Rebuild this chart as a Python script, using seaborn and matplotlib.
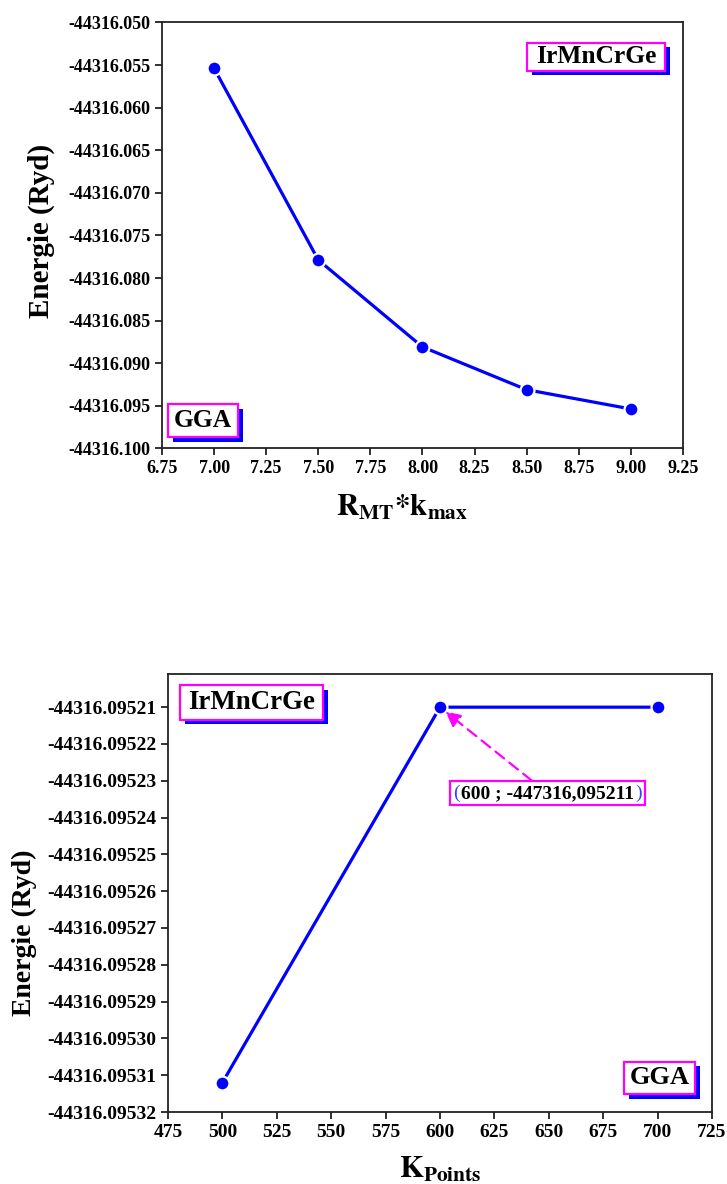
import numpy as np
import pandas as pd
import matplotlib
matplotlib.use("Agg")
import matplotlib.pyplot as plt
import matplotlib.patheffects as pe
from matplotlib.path import Path
from matplotlib.ticker import FixedLocator, FormatStrFormatter
from matplotlib.offsetbox import TextArea, HPacker, AnnotationBbox
import seaborn as sns

# ---- data ----
rkmax = [7.0, 7.5, 8.0, 8.5, 9.0]
energy_rkmax = [-44316.05538, -44316.07787, -44316.08808, -44316.09310, -44316.09536]

kpoints = [500, 600, 700]
energy_kpoints = [-44316.095312, -44316.095210, -44316.095210]

rk_xticks = [6.75, 7.00, 7.25, 7.50, 7.75, 8.00, 8.25, 8.50, 8.75, 9.00, 9.25]
rk_yticks = [-44316.050, -44316.055, -44316.060, -44316.065, -44316.070,
             -44316.075, -44316.080, -44316.085, -44316.090, -44316.095, -44316.100]
kp_xticks = [475, 500, 525, 550, 575, 600, 625, 650, 675, 700, 725]
kp_yticks = [-44316.09521, -44316.09522, -44316.09523, -44316.09524, -44316.09525,
             -44316.09526, -44316.09527, -44316.09528, -44316.09529, -44316.09530,
             -44316.09531, -44316.09532]

compound = "IrMnCrGe"
functional = "GGA"
point_note = "600 ; -447316,095211"

# ---- style ----
sns.set_theme(style="ticks")
plt.rcParams["font.family"] = ["Liberation Serif", "DejaVu Serif"]
plt.rcParams["font.weight"] = "bold"
plt.rcParams["mathtext.fontset"] = "stix"
plt.rcParams["text.color"] = "black"
plt.rcParams["axes.labelcolor"] = "black"
plt.rcParams["xtick.color"] = "black"
plt.rcParams["ytick.color"] = "black"
plt.rcParams["axes.edgecolor"] = "#222222"
plt.rcParams["axes.linewidth"] = 1.3

fig = plt.figure(figsize=(7.27, 11.84), dpi=100)
ax1 = fig.add_axes([0.2228, 0.6212, 0.7166, 0.3598])
ax2 = fig.add_axes([0.2311, 0.0608, 0.7483, 0.3699])

line_kw = dict(color="#0000ff", linewidth=2.3, marker="o", markersize=10,
               markerfacecolor="#0000ff", markeredgecolor="white",
               markeredgewidth=1.6)

df1 = pd.DataFrame({"rkmax": rkmax, "E": energy_rkmax})
df2 = pd.DataFrame({"k": kpoints, "E": energy_kpoints})
sns.lineplot(data=df1, x="rkmax", y="E", ax=ax1, **line_kw)
sns.lineplot(data=df2, x="k", y="E", ax=ax2, **line_kw)


def padded_box(padx, pady):
    def box(x0, y0, width, height, mutation_size):
        px = padx * mutation_size
        py = pady * mutation_size
        xa, ya = x0 - px, y0 - py
        xb, yb = x0 + width + px, y0 + height + py
        return Path([(xa, ya), (xb, ya), (xb, yb), (xa, yb), (xa, ya)], closed=True)
    return box


def shadow_label(ax, x, y, text, size, padx, pady):
    t = ax.text(x, y, text, transform=ax.transAxes, ha="center", va="center",
                fontsize=size, fontweight="bold", color="black",
                bbox=dict(boxstyle=padded_box(padx, pady), facecolor="white",
                          edgecolor="#ff00ff", linewidth=1.6), zorder=5)
    t.get_bbox_patch().set_path_effects([
        pe.SimplePatchShadow(offset=(3.6, -3.2), shadow_rgbFace="#0000ff", alpha=1.0),
        pe.Normal()])
    return t


for ax, xt, yt, xl, yl, fmt, lsize in [
        (ax1, rk_xticks, rk_yticks, (6.75, 9.25), (-44316.100, -44316.050), "%.3f", 13),
        (ax2, kp_xticks, kp_yticks, (475, 725), (-44316.09532, -44316.095201), "%.5f", 14)]:
    ax.set_xlim(*xl)
    ax.set_ylim(*yl)
    ax.xaxis.set_major_locator(FixedLocator(xt))
    ax.yaxis.set_major_locator(FixedLocator(yt))
    ax.yaxis.set_major_formatter(FormatStrFormatter(fmt))
    ax.xaxis.set_major_formatter(FormatStrFormatter("%.2f" if ax is ax1 else "%d"))
    ax.tick_params(axis="both", direction="out", length=5, width=1.3,
                   labelsize=lsize, colors="#222222", labelcolor="black",
                   top=False, right=False)
    for lab in ax.get_xticklabels() + ax.get_yticklabels():
        lab.set_fontweight("bold")
    for s in ax.spines.values():
        s.set_visible(True)
        s.set_color("#222222")
        s.set_linewidth(1.3)

ax1.set_xlabel(r"$\mathbf{R_{MT}{*}k_{max}}$", fontsize=22, color="black")
ax1.set_ylabel("Energie (Ryd)", fontsize=21, fontweight="bold", color="black")
ax1.xaxis.set_label_coords(0.46, -0.105)
ax1.yaxis.set_label_coords(-0.205, 0.51)

ax2.set_xlabel(r"$\mathbf{K_{Points}}$", fontsize=22, color="black")
ax2.set_ylabel("Energie (Ryd)", fontsize=20, fontweight="bold", color="black")
ax2.xaxis.set_label_coords(0.5, -0.098)
ax2.yaxis.set_label_coords(-0.241, 0.41)

shadow_label(ax1, 0.833, 0.920, compound, 18.4, 0.35, 0.1)
shadow_label(ax1, 0.0785, 0.065, functional, 18.4, 0.22, 0.2)
shadow_label(ax2, 0.1535, 0.935, compound, 19.4, 0.3, 0.18)
shadow_label(ax2, 0.904, 0.078, functional, 19.0, 0.2, 0.18)

# annotation of the plateau point
paren_kw = dict(color="#3344ff", fontsize=14, fontweight="normal")
body_kw = dict(color="black", fontsize=14, fontweight="bold")
packed = HPacker(children=[TextArea("(", textprops=paren_kw),
                           TextArea(point_note, textprops=body_kw),
                           TextArea(")", textprops=paren_kw)],
                 pad=0, sep=1, align="baseline")
ab = AnnotationBbox(packed, (kpoints[1], energy_kpoints[1]),
                    xybox=(0.6976, 0.728), xycoords="data", boxcoords="axes fraction",
                    box_alignment=(0.5, 0.5), pad=0.2,
                    bboxprops=dict(edgecolor="#ff00ff", facecolor="white",
                                   linewidth=1.6, boxstyle="square,pad=0.2"),
                    arrowprops=dict(arrowstyle="-|>", color="#ff00ff", lw=1.6,
                                    linestyle=(0, (5, 3)), mutation_scale=16,
                                    shrinkA=0, shrinkB=5))
ab.set_zorder(6)
ax2.add_artist(ab)

fig.savefig("out.png", dpi=100)
